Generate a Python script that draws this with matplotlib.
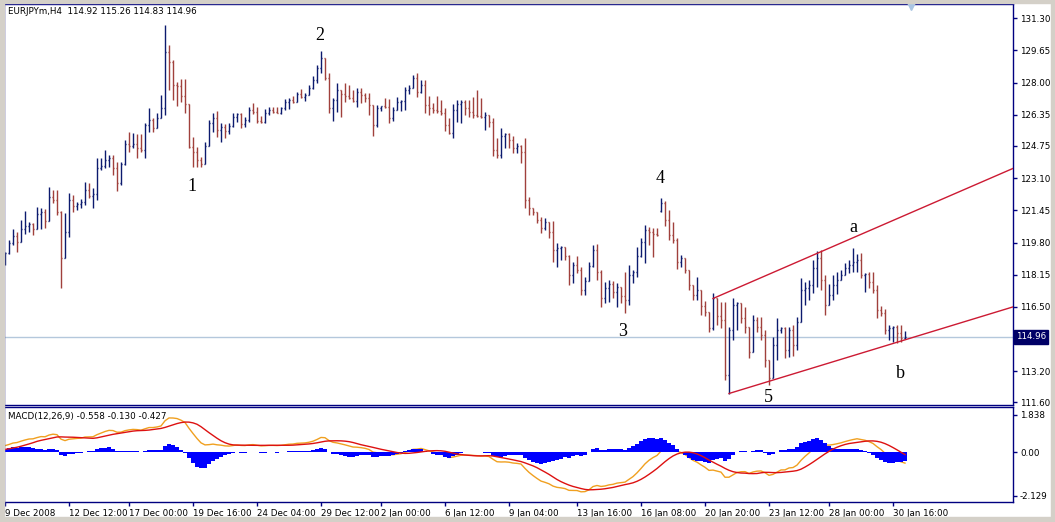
import numpy as np
import matplotlib
matplotlib.use("Agg")
import matplotlib.pyplot as plt
from matplotlib.collections import LineCollection
from matplotlib.patches import Rectangle

# ---------------- data ----------------
symbol_header = "EURJPYm,H4  114.92 115.26 114.83 114.96"
macd_header = "MACD(12,26,9) -0.558 -0.130 -0.427"

closes = [119.27,119.78,120.14,119.83,120.50,120.65,120.75,120.50,121.26,121.37,
120.91,122.14,121.98,121.37,119.01,120.35,121.98,121.68,121.78,121.88,
122.50,122.19,122.29,123.62,123.73,124.03,124.14,123.62,122.86,123.83,
124.85,124.75,124.85,124.65,124.55,125.83,126.08,125.67,126.19,126.70,
129.57,129.06,127.88,127.83,127.32,126.91,124.70,124.44,124.03,123.83,
124.75,125.93,126.19,125.57,125.73,125.52,125.78,126.24,126.39,125.88,
126.08,126.60,126.50,126.03,125.98,126.45,126.60,126.50,126.45,126.70,
127.01,127.11,127.01,127.42,127.27,127.37,127.73,128.14,128.75,129.26,
128.24,126.70,127.11,127.62,127.42,127.32,127.21,127.06,127.52,127.37,
127.21,126.85,125.83,126.70,126.80,126.75,126.19,126.60,127.01,127.06,
127.62,127.73,128.24,127.52,127.88,126.85,126.70,126.60,126.55,126.45,
125.83,125.42,126.60,126.91,127.01,126.70,126.50,126.34,126.29,126.24,
126.34,125.98,124.55,124.29,125.26,125.37,125.06,124.65,124.75,124.44,
121.98,121.57,121.37,120.96,120.55,120.86,120.35,119.42,119.52,119.57,
119.11,118.14,118.65,118.40,117.37,117.83,118.60,119.42,118.29,116.96,
117.47,117.68,117.27,117.52,117.06,116.86,118.14,118.29,119.11,119.83,
120.45,120.35,120.24,120.19,121.83,120.96,120.19,119.93,118.80,119.01,
118.40,117.62,117.11,117.37,116.55,116.24,115.42,116.96,116.04,115.83,
113.01,115.32,116.60,116.70,115.93,115.47,114.19,115.83,115.47,115.06,
113.78,112.86,114.55,115.32,115.42,114.30,115.32,114.55,115.73,117.37,
117.47,117.62,118.50,119.01,117.88,116.60,117.11,117.62,117.88,118.14,
118.50,118.65,118.80,118.91,118.14,118.19,117.78,117.37,116.35,116.19,
115.32,115.42,115.47,115.16,114.92,114.96]

highs = [119.32,119.93,120.50,120.35,120.96,121.42,120.86,120.81,121.62,121.57,
121.52,122.65,122.50,122.50,121.42,121.32,122.35,122.24,121.88,122.03,
122.91,122.86,122.60,124.14,124.14,124.55,124.29,124.29,123.93,123.93,
125.06,125.47,125.42,125.37,125.37,125.93,126.70,126.19,126.45,127.37,
130.96,129.93,129.16,128.03,128.19,128.19,126.80,125.21,124.70,124.19,
124.96,126.08,126.45,126.55,125.93,125.88,125.93,126.45,126.45,126.45,
126.24,126.75,126.96,126.75,126.29,126.65,126.75,126.75,126.75,126.75,
127.16,127.21,127.32,127.52,127.67,127.47,127.88,128.34,128.91,129.62,
129.16,128.50,127.21,127.98,127.62,127.98,127.88,127.62,127.73,127.73,
127.47,127.47,126.85,126.85,126.80,127.21,127.16,126.75,127.27,127.11,
127.78,127.88,128.39,128.50,128.14,128.14,127.32,126.96,127.32,127.11,
126.70,126.19,126.91,127.11,127.11,127.11,127.11,127.27,127.62,127.21,
126.50,126.34,126.19,125.16,125.67,125.42,125.42,125.26,124.91,124.80,
125.16,122.14,121.57,121.37,121.11,121.06,120.86,120.91,119.78,119.62,
119.57,119.16,118.80,119.11,118.55,118.04,118.80,119.67,119.73,118.40,
117.78,117.88,117.83,117.73,117.52,118.29,118.65,118.40,119.57,120.04,
120.70,120.60,120.55,120.55,122.09,121.93,121.47,120.86,120.04,119.16,
119.01,118.40,117.62,118.04,117.37,116.80,116.24,117.21,116.96,116.75,
116.75,115.47,116.96,116.75,116.70,116.50,115.47,116.09,115.98,115.98,
115.32,113.78,114.96,115.93,115.47,115.47,115.47,115.58,115.98,117.98,
117.78,117.88,118.91,119.37,119.42,118.14,117.68,118.14,118.29,118.40,
118.75,118.91,119.52,119.21,119.27,118.24,118.29,118.29,117.62,116.55,
116.40,115.58,115.52,115.58,115.58,115.26]

lows = [118.65,119.21,119.67,119.32,119.83,120.24,120.35,120.19,120.55,120.50,
120.55,121.16,121.83,121.21,117.47,119.01,120.09,121.37,121.47,121.57,
121.73,122.09,121.57,121.98,123.52,123.62,123.67,123.26,122.45,122.75,
123.78,124.44,124.65,124.14,124.44,124.14,125.47,125.47,125.67,126.19,
126.34,127.62,127.11,126.80,127.01,126.45,124.65,123.67,123.67,123.67,
124.14,124.91,125.47,125.21,124.96,125.16,125.37,125.73,125.98,125.67,
125.73,125.98,126.39,125.93,125.93,125.93,126.34,126.45,126.45,126.39,
126.60,126.65,126.96,127.01,127.21,127.06,127.47,127.67,127.98,128.50,
128.14,126.45,126.03,126.50,126.24,127.01,127.16,127.01,126.75,126.96,
127.01,126.34,125.26,125.73,126.55,126.70,125.93,126.03,126.60,126.55,
126.60,127.42,127.78,127.27,127.47,126.45,126.34,126.45,126.45,126.34,
125.52,125.37,125.16,125.98,125.93,126.34,126.24,126.19,126.24,126.19,
125.57,125.73,124.24,124.14,124.14,124.65,124.65,124.39,124.39,123.88,
121.57,121.21,121.21,120.81,120.29,120.45,120.04,118.80,118.55,118.91,
118.91,117.62,117.73,118.24,117.11,117.11,117.83,118.55,117.88,116.50,
116.70,116.75,116.96,116.50,116.70,116.19,116.60,117.73,118.04,119.06,
118.75,119.67,119.06,120.14,121.37,120.65,119.93,119.78,118.45,118.55,
118.24,117.37,116.86,116.86,116.09,116.04,115.22,115.32,115.58,115.42,
112.76,112.04,114.81,115.32,115.68,115.16,113.88,114.19,115.22,114.81,
113.42,112.50,112.86,113.78,115.16,113.88,113.93,113.98,114.30,115.73,
116.60,116.86,117.21,117.52,117.37,116.09,116.60,116.86,117.16,117.88,
118.14,118.24,118.29,118.29,117.98,117.27,117.47,117.21,115.93,116.04,
115.11,114.81,114.70,114.65,114.70,114.83]

first_open = 118.75
gap_opens = {164: 121.42}          # weekend gap open
bid_price = 114.96

# trend lines: (bar, price) pairs
upper_line = [(177, 116.93), (252, 123.60)]
lower_line = [(181, 112.06), (252, 116.50)]

# wave labels: (text, bar, price)
wave_labels = [("1", 46.75, 122.65), ("2", 78.75, 130.39), ("3", 154.5, 115.22),
               ("4", 163.75, 123.06), ("5", 190.75, 111.88), ("a", 212.0, 120.55),
               ("b", 223.75, 113.11)]

price_ticks = [131.30, 129.65, 128.00, 126.35, 124.75, 123.10, 121.45, 119.80,
               118.15, 116.50, 113.20, 111.60]
macd_ticks = [1.838, 0.00, -2.129]
macd_tick_labels = ["1.838", "0.00", "-2.129"]

date_tick_bars = [0, 16, 31, 47, 63, 79, 94, 110, 126, 143, 159, 175, 191, 206, 222]
date_labels = ["9 Dec 2008", "12 Dec 12:00", "17 Dec 00:00", "19 Dec 16:00",
               "24 Dec 04:00", "29 Dec 12:00", "2 Jan 00:00", "6 Jan 12:00",
               "9 Jan 04:00", "13 Jan 16:00", "16 Jan 08:00", "20 Jan 20:00",
               "23 Jan 12:00", "28 Jan 00:00", "30 Jan 16:00"]

# MACD state at the left edge
macd_start, signal_start, ema26_gap = 0.30, 0.12, 0.90

# ---------------- derived ----------------
c = np.array(closes)
h = np.array(highs)
l = np.array(lows)
n = len(c)
o = np.r_[first_open, c[:-1]]
for k, v in gap_opens.items():
    o[k] = v
x = np.arange(n)

# MACD(12,26,9): EMA12-EMA26, signal = SMA(9) of MACD (MetaTrader style)
a12, a26 = 2 / 13, 2 / 27
e26 = c[0] - ema26_gap
e12 = e26 + macd_start
macd = np.zeros(n)
for i in range(n):
    e12 += a12 * (c[i] - e12)
    e26 += a26 * (c[i] - e26)
    macd[i] = e12 - e26
padded = np.r_[np.full(8, signal_start), macd]
sig = np.array([padded[i:i + 9].mean() for i in range(n)])
hist = macd - sig

# ---------------- figure ----------------
W, H = 1055, 522
fig = plt.figure(figsize=(W / 100, H / 100), dpi=100)
fig.patch.set_facecolor("white")
gray = "#d4d0c8"
for (x0, y0, w, hh) in [(0, 0, 4, H), (0, 0, W, 3), (0, H - 5, W, 5), (W - 4, 0, 4, H)]:
    fig.patches.append(Rectangle((x0 / W, 1 - (y0 + hh) / H), w / W, hh / H,
                                 transform=fig.transFigure, color=gray, zorder=0))

navy = "#000080"
up_col = "#0c1a6e"
dn_col = "#a0403c"

ax = fig.add_axes([4 / W, (H - 405) / H, 1009 / W, 401 / H])
ax2 = fig.add_axes([4 / W, (H - 502) / H, 1009 / W, 95 / H])

xlim = (-0.25, 252)
for a in (ax, ax2):
    a.set_xlim(*xlim)
    a.set_facecolor("white")
    for sp in a.spines.values():
        sp.set_color(navy)
        sp.set_linewidth(1.0)

ax.set_ylim(111.47, 132.03)
ax2.set_ylim(-2.424, 2.21)

# bars
segs, cols = [], []
tw = 0.3
for i in range(n):
    col = up_col if c[i] >= o[i] else dn_col
    lo_ = min(l[i], o[i], c[i])
    hi_ = max(h[i], o[i], c[i])
    segs.append([(x[i], lo_), (x[i], hi_)])
    segs.append([(x[i] - tw, o[i]), (x[i], o[i])])
    segs.append([(x[i], c[i]), (x[i] + tw, c[i])])
    cols += [col] * 3
ax.add_collection(LineCollection(segs, colors=cols, linewidths=1.0, zorder=3))

# bid line
ax.axhline(bid_price, color="#b4c8dc", lw=1.0, zorder=1)

# trend lines
for line in (upper_line, lower_line):
    (xa, ya), (xb, yb) = line
    ax.plot([xa, xb], [ya, yb], color="#cc1a33", lw=1.0, zorder=4)

# wave labels
for t, bx, py in wave_labels:
    ax.text(bx, py, t, family="Liberation Serif", fontsize=13, ha="center",
            va="center", color="black", zorder=5)

# shift marker
ax.plot([226.4], [131.95], marker="v", ms=6, color="#a9c5e3", mec="#a9c5e3",
        clip_on=False, zorder=6)

# price axis
ax.yaxis.tick_right()
ax.set_yticks(price_ticks)
ax.set_yticklabels(["%.2f" % v for v in price_ticks])
ax.tick_params(axis="y", direction="out", length=3, width=1, color=navy,
               labelsize=6.3, pad=2, labelcolor="black")
ax.tick_params(axis="x", bottom=False, labelbottom=False)

# current price box
ax.annotate("%.2f" % bid_price, xy=(1.0, bid_price),
            xycoords=("axes fraction", "data"), xytext=(2, 0),
            textcoords="offset points", va="center", ha="left", fontsize=6.3,
            color="white", zorder=7, annotation_clip=False,
            bbox=dict(boxstyle="square,pad=0.25", fc="#000066", ec="#000066"))

# header
fig.text(8 / W, 1 - 12 / H, symbol_header, fontsize=6.3, va="center", ha="left",
         color="black")

# MACD panel
ax2.plot(x, macd, color="#f0a020", lw=1.0, zorder=2)
ax2.bar(x, hist, width=1.0, color="#0000ff", edgecolor="none", zorder=3)
ax2.plot(x, sig, color="#dd1111", lw=1.0, zorder=4)
ax2.yaxis.tick_right()
ax2.set_yticks(macd_ticks)
ax2.set_yticklabels(macd_tick_labels)
ax2.tick_params(axis="y", direction="out", length=3, width=1, color=navy,
                labelsize=6.3, pad=2, labelcolor="black")
ax2.set_xticks(date_tick_bars)
ax2.set_xticklabels(date_labels)
for lab in ax2.get_xticklabels():
    lab.set_ha("left")
ax2.tick_params(axis="x", direction="out", length=3, width=1, color=navy,
                labelsize=6.3, pad=2, labelcolor="black")
ax2.text(4 / 1009, 1 - 10 / 95, macd_header, transform=ax2.transAxes,
         fontsize=6.3, va="center", ha="left", color="black")

fig.savefig("out.png", dpi=100, facecolor=fig.get_facecolor())
